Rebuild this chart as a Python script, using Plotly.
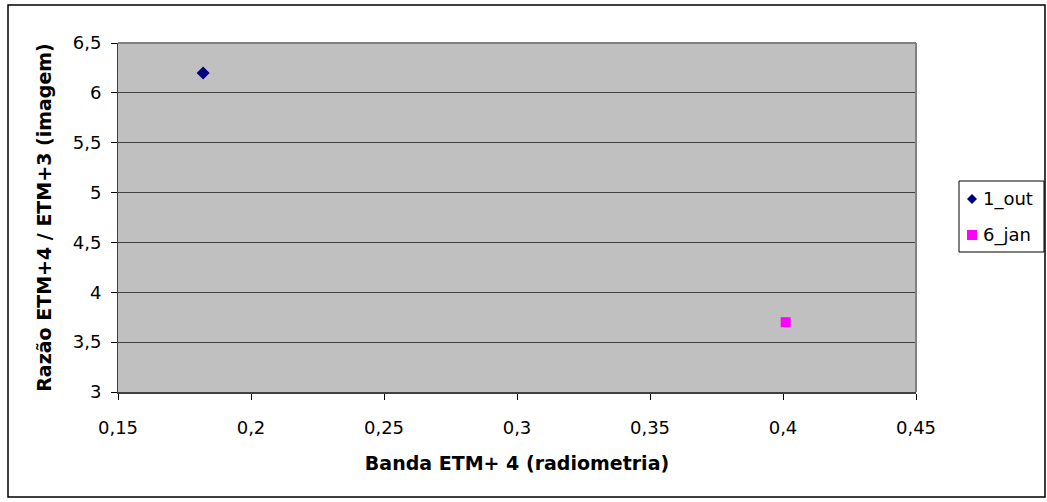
import plotly.graph_objects as go

# Data series
series_names = ["1_out", "6_jan"]
x_values = [[0.182], [0.401]]
y_values = [[6.2], [3.7]]
colors = ["#000080", "#FF00FF"]
symbols = ["diamond", "square"]
sizes = [10, 10]

x_ticks = [0.15, 0.2, 0.25, 0.3, 0.35, 0.4, 0.45]
x_tick_text = ["0,15", "0,2", "0,25", "0,3", "0,35", "0,4", "0,45"]
y_ticks = [3, 3.5, 4, 4.5, 5, 5.5, 6, 6.5]
y_tick_text = ["3", "3,5", "4", "4,5", "5", "5,5", "6", "6,5"]

FONT = "DejaVu Sans, Arial, sans-serif"
FS = 18
FS_TITLE = 19

fig = go.Figure()
for i, name in enumerate(series_names):
    fig.add_trace(go.Scatter(
        x=x_values[i], y=y_values[i], mode="markers", name=name,
        showlegend=False,
        marker=dict(color=colors[i], symbol=symbols[i], size=sizes[i],
                    line=dict(width=0)),
    ))

L, R, T, B = 118, 131, 43, 110
W, H = 1047, 502
pw, ph = W - L - R, H - T - B

def px_x(x):
    return (x - L) / pw

def px_y(y):
    return (H - B - y) / ph

shapes = [
    # plot area frame (top and right)
    dict(type="line", xref="paper", yref="paper", x0=0, x1=1, y0=1, y1=1,
         line=dict(color="#808080", width=2), layer="above"),
    dict(type="line", xref="paper", yref="paper", x0=1, x1=1, y0=0, y1=1,
         line=dict(color="#808080", width=2), layer="above"),
    # outer chart border
    dict(type="rect", xref="paper", yref="paper",
         x0=px_x(8), x1=px_x(1045), y0=px_y(497), y1=px_y(5),
         line=dict(color="black", width=1.5), fillcolor="rgba(0,0,0,0)"),
    # legend box
    dict(type="rect", xref="paper", yref="paper",
         x0=px_x(959), x1=px_x(1044), y0=px_y(252), y1=px_y(181),
         line=dict(color="black", width=1), fillcolor="white"),
]

# legend entries: symbol + label
annotations = []
leg_rows = [199, 235]
sym_cx = 972
half = 5
for i, name in enumerate(series_names):
    cy = leg_rows[i]
    if symbols[i] == "diamond":
        path = (f"M {px_x(sym_cx - half)},{px_y(cy)} L {px_x(sym_cx)},{px_y(cy - half)} "
                f"L {px_x(sym_cx + half)},{px_y(cy)} L {px_x(sym_cx)},{px_y(cy + half)} Z")
    else:
        path = (f"M {px_x(sym_cx - half)},{px_y(cy - half)} L {px_x(sym_cx + half)},{px_y(cy - half)} "
                f"L {px_x(sym_cx + half)},{px_y(cy + half)} L {px_x(sym_cx - half)},{px_y(cy + half)} Z")
    shapes.append(dict(type="path", xref="paper", yref="paper", path=path,
                       fillcolor=colors[i], line=dict(width=0)))
    annotations.append(dict(
        x=px_x(981), y=px_y(cy), xref="paper", yref="paper",
        xanchor="left", yanchor="middle", showarrow=False, text=name,
        font=dict(family=FONT, size=FS, color="black"),
    ))

fig.update_layout(
    width=W, height=H,
    margin=dict(l=L, r=R, t=T, b=B, pad=0, autoexpand=False),
    paper_bgcolor="white",
    plot_bgcolor="#C0C0C0",
    font=dict(family=FONT, size=FS, color="black"),
    showlegend=False,
    xaxis=dict(
        range=[0.15, 0.45], tickvals=x_ticks, ticktext=x_tick_text,
        showgrid=False, zeroline=False,
        showline=True, linecolor="#404040", linewidth=2,
        ticks="outside", ticklen=6, tickcolor="black", tickwidth=1,
        ticklabelstandoff=12,
        tickfont=dict(family=FONT, size=FS),
        title=dict(text="<b>Banda ETM+ 4 (radiometria)</b>",
                   font=dict(family=FONT, size=FS_TITLE), standoff=20),
    ),
    yaxis=dict(
        range=[3, 6.5], tickvals=y_ticks, ticktext=y_tick_text,
        showgrid=True, gridcolor="#404040", gridwidth=1, zeroline=False,
        showline=True, linecolor="#404040", linewidth=1,
        ticks="outside", ticklen=6, tickcolor="black", tickwidth=1,
        ticklabelstandoff=6,
        tickfont=dict(family=FONT, size=FS),
        title=dict(text="<b>Razão ETM+4 / ETM+3 (imagem)</b>",
                   font=dict(family=FONT, size=FS_TITLE), standoff=16),
    ),
    shapes=shapes,
    annotations=annotations,
)

fig.write_html("out.html")
